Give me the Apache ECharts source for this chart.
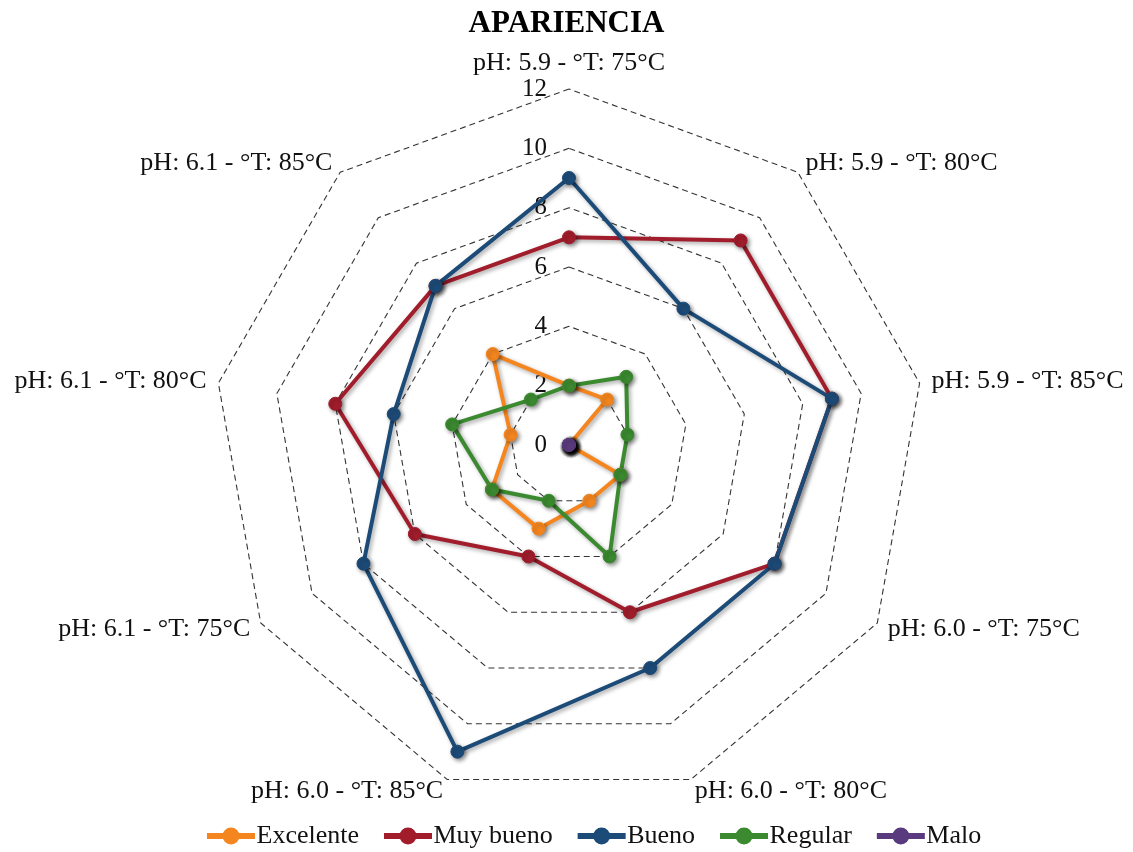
<!DOCTYPE html>
<html>
<head>
<meta charset="utf-8">
<title>APARIENCIA</title>
<script src="https://cdn.jsdelivr.net/npm/echarts@6/dist/echarts.min.js"></script>
<style>
  html, body { margin: 0; padding: 0; background: #ffffff; }
  #chart { width: 1133px; height: 852px; }
</style>
</head>
<body>
<div id="chart"></div>
<script>
// Axis categories, listed clockwise starting from the top spoke
const categories = [
  'pH: 5.9 - °T: 75°C',
  'pH: 5.9 - °T: 80°C',
  'pH: 5.9 - °T: 85°C',
  'pH: 6.0 - °T: 75°C',
  'pH: 6.0 - °T: 80°C',
  'pH: 6.0 - °T: 85°C',
  'pH: 6.1 - °T: 75°C',
  'pH: 6.1 - °T: 80°C',
  'pH: 6.1 - °T: 85°C'
];

// Scores per category (same order as categories)
const excelente = [2, 2, 0, 2, 2, 3, 3, 2, 4];
const muyBueno  = [7, 9, 9, 8, 6, 4, 6, 8, 7];
const bueno     = [9, 6, 9, 8, 8, 11, 8, 6, 7];
const regular   = [2, 3, 2, 2, 4, 2, 3, 4, 2];
const malo      = [0, 0, 0, 0, 0, 0, 0, 0, 0];

const seriesNames = ['Excelente', 'Muy bueno', 'Bueno', 'Regular', 'Malo'];
const seriesValues = [excelente, muyBueno, bueno, regular, malo];
const seriesColors = ['#F5861F', '#A11D2C', '#1C4B78', '#3B8A30', '#5A3A7E'];

const scaleMax = 12;
const scaleStep = 2;

const serif = "'Liberation Serif', 'Times New Roman', serif";

// ECharts lays radar spokes out counter-clockwise; reorder so the
// categories run clockwise from the top.
const order = [0].concat(categories.slice(1).map((_, i) => categories.length - 1 - i));
const reorder = arr => order.map(i => arr[i]);

const indicators = reorder(categories).map((name, i) => {
  const ind = { name: name, min: 0, max: scaleMax };
  if (i === 0) {
    // value labels only along the top spoke
    ind.axisLabel = {
      show: true,
      fontFamily: serif,
      fontSize: 25,
      color: '#111',
      margin: 22
    };
  }
  return ind;
});

// legend marker: short line with a dot in the middle
const legendIcon = 'path://M0,5.5H46V9.5H0Z M30.5,7.5A7.5,7.5 0 1 1 15.5,7.5A7.5,7.5 0 1 1 30.5,7.5Z';

const chart = echarts.init(document.getElementById('chart'), null, { renderer: 'canvas' });

chart.setOption({
  backgroundColor: '#ffffff',
  animation: false,
  title: {
    text: 'APARIENCIA',
    left: 'center',
    top: 3,
    textStyle: {
      fontFamily: serif,
      fontSize: 31,
      fontWeight: 'bold',
      color: '#000'
    }
  },
  legend: {
    top: 818,
    left: 202,
    itemWidth: 47,
    itemHeight: 15,
    itemGap: 25,
    icon: legendIcon,
    textStyle: { fontFamily: serif, fontSize: 26, color: '#111', padding: [0, 0, 0, -3] },
    data: seriesNames
  },
  radar: {
    center: [569, 445],
    radius: 356,
    startAngle: 90,
    splitNumber: scaleMax / scaleStep,
    shape: 'polygon',
    nameGap: 12,
    axisName: {
      color: '#111',
      fontFamily: serif,
      fontSize: 26
    },
    axisLine: { show: false },
    axisTick: { show: false },
    axisLabel: { show: false },
    splitArea: { show: false },
    splitLine: {
      lineStyle: { color: '#333', width: 1.1, type: [6, 4] }
    },
    indicator: indicators
  },
  series: seriesNames.map((name, i) => ({
    name: name,
    type: 'radar',
    symbol: 'circle',
    symbolSize: 13,
    color: seriesColors[i],
    lineStyle: {
      width: 4,
      color: seriesColors[i],
      shadowColor: 'rgba(0,0,0,0.35)',
      shadowBlur: 4,
      shadowOffsetX: 2,
      shadowOffsetY: 2
    },
    itemStyle: {
      color: seriesColors[i],
      borderColor: seriesColors[i],
      borderWidth: 1,
      shadowColor: 'rgba(0,0,0,0.45)',
      shadowBlur: 4,
      shadowOffsetX: 2,
      shadowOffsetY: 2
    },
    data: [{ name: name, value: reorder(seriesValues[i]) }]
  }))
});
</script>
</body>
</html>
